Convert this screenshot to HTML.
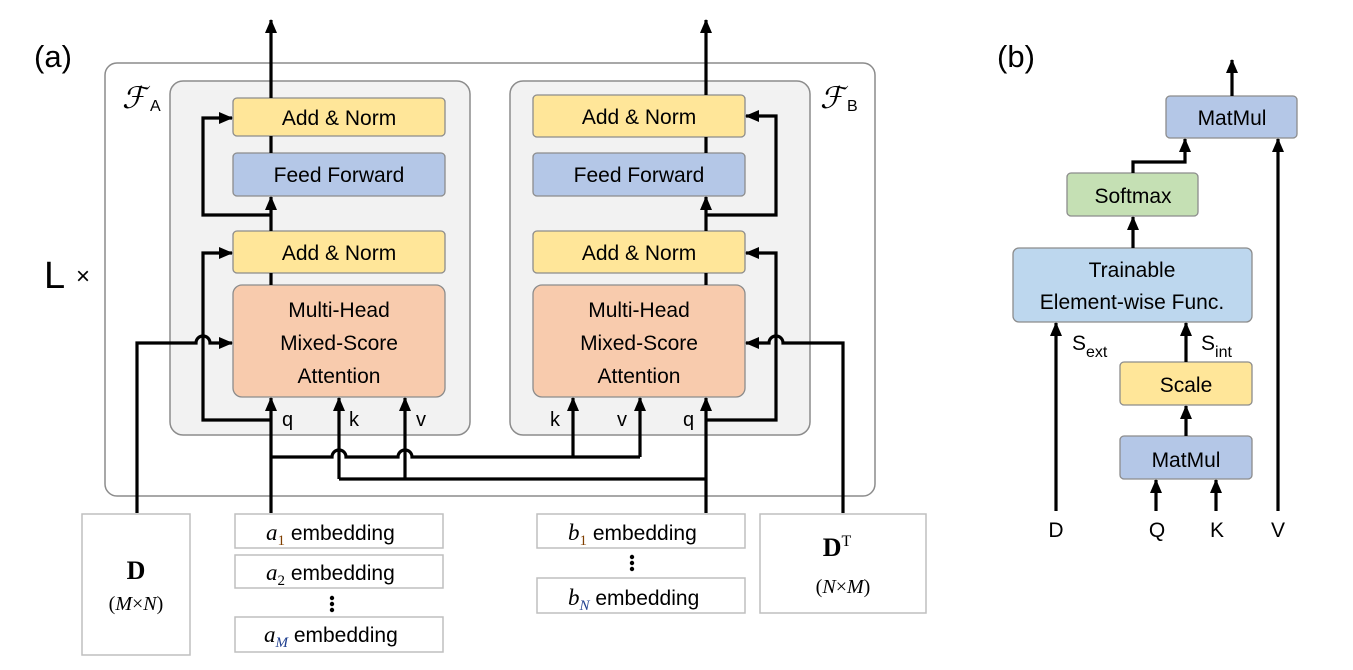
<!DOCTYPE html>
<html><head><meta charset="utf-8"><style>
html,body{margin:0;padding:0;background:#fff;}
svg{display:block;font-family:"Liberation Sans",sans-serif;}
</style></head><body>
<svg width="1353" height="670" viewBox="0 0 1353 670" xmlns="http://www.w3.org/2000/svg">
<defs>
<marker id="ar" markerUnits="userSpaceOnUse" markerWidth="14" markerHeight="14" viewBox="0 0 14 14" refX="13" refY="7" orient="auto">
<path d="M0,1 L14,7 L0,13 z" fill="#000"/>
</marker>
</defs>
<!-- titles -->
<text x="34" y="67" font-size="31">(a)</text>
<text x="44" y="288" font-size="38">L</text>
<text x="76" y="284" font-size="24">×</text>
<text x="997" y="67" font-size="31">(b)</text>

<!-- outer box -->
<rect x="105" y="63" width="770" height="433" rx="12" fill="#fff" stroke="#8c8c8c" stroke-width="1.5"/>
<rect x="170" y="81" width="300" height="354" rx="13" fill="#f2f2f2" stroke="#8c8c8c" stroke-width="1.5"/>
<rect x="510" y="81" width="300" height="354" rx="13" fill="#f2f2f2" stroke="#8c8c8c" stroke-width="1.5"/>
<text x="122" y="108" font-size="30" font-family="DejaVu Serif, serif" font-style="italic">ℱ</text>
<text x="150" y="111" font-size="16">A</text>
<text x="820" y="108" font-size="30" font-family="DejaVu Serif, serif" font-style="italic">ℱ</text>
<text x="847" y="111" font-size="16">B</text>

<g stroke="#8c8c8c" stroke-width="1.3">
<rect x="233" y="98" width="212" height="38" rx="4" fill="#ffe699"/>
<rect x="233" y="153" width="212" height="43" rx="4" fill="#b4c7e7"/>
<rect x="233" y="231" width="212" height="42" rx="4" fill="#ffe699"/>
<rect x="233" y="285" width="212" height="112" rx="9" fill="#f8cbad"/>
<rect x="533" y="95" width="212" height="42" rx="4" fill="#ffe699"/>
<rect x="533" y="153" width="212" height="43" rx="4" fill="#b4c7e7"/>
<rect x="533" y="231" width="212" height="42" rx="4" fill="#ffe699"/>
<rect x="533" y="285" width="212" height="112" rx="9" fill="#f8cbad"/>
</g>
<g font-size="21" text-anchor="middle">
<text x="339" y="125">Add &amp; Norm</text>
<text x="339" y="182">Feed Forward</text>
<text x="339" y="260">Add &amp; Norm</text>
<text x="339" y="317">Multi-Head</text>
<text x="339" y="350">Mixed-Score</text>
<text x="339" y="383">Attention</text>
<text x="639" y="124">Add &amp; Norm</text>
<text x="639" y="182">Feed Forward</text>
<text x="639" y="260">Add &amp; Norm</text>
<text x="639" y="317">Multi-Head</text>
<text x="639" y="350">Mixed-Score</text>
<text x="639" y="383">Attention</text>
</g>
<g font-size="20">
<text x="282" y="426">q</text><text x="349" y="426">k</text><text x="416" y="426">v</text>
<text x="550" y="426">k</text><text x="617" y="426">v</text><text x="683" y="426">q</text>
</g>

<g stroke="#000" stroke-width="3.2" fill="none">
<path d="M271,98 V20" marker-end="url(#ar)"/>
<path d="M271,136 V153"/>
<path d="M271,231 V197" marker-end="url(#ar)"/>
<path d="M271,215 H203 V118 H232" marker-end="url(#ar)"/>
<path d="M271,273 V285"/>
<path d="M271,513 V398" marker-end="url(#ar)"/>
<path d="M271,420 H203 V253 H232" marker-end="url(#ar)"/>
<path d="M137,513 V343 H196 A7,7 0 0 1 210,343 H232" marker-end="url(#ar)"/>
<path d="M339,479 V398" marker-end="url(#ar)"/>
<path d="M405,479 V398" marker-end="url(#ar)"/>
<path d="M271,457 H332 A7,7 0 0 1 346,457 H398 A7,7 0 0 1 412,457 H640"/>
<path d="M339,479 H706"/>
<path d="M573,457 V398" marker-end="url(#ar)"/>
<path d="M640,457 V398" marker-end="url(#ar)"/>
<path d="M706,95 V20" marker-end="url(#ar)"/>
<path d="M706,137 V153"/>
<path d="M706,231 V197" marker-end="url(#ar)"/>
<path d="M706,215 H776 V116 H746" marker-end="url(#ar)"/>
<path d="M706,273 V285"/>
<path d="M706,513 V398" marker-end="url(#ar)"/>
<path d="M706,420 H776 V253 H746" marker-end="url(#ar)"/>
<path d="M843,513 V343 H783 A7,7 0 0 0 769,343 H746" marker-end="url(#ar)"/>
</g>

<g fill="#fff" stroke="#bfbfbf" stroke-width="1.5">
<rect x="82" y="514" width="108" height="141"/>
<rect x="235" y="514" width="208" height="34"/>
<rect x="235" y="555" width="208" height="33"/>
<rect x="235" y="617" width="208" height="35"/>
<rect x="537" y="514" width="208" height="34"/>
<rect x="537" y="578" width="208" height="35"/>
<rect x="760" y="514" width="166" height="99"/>
</g>
<text x="136" y="579" font-size="26" font-weight="bold" font-family="Liberation Serif, serif" text-anchor="middle">D</text>
<text x="136" y="610" font-size="20" font-family="Liberation Serif, serif" text-anchor="middle">(<tspan font-style="italic">M</tspan>×<tspan font-style="italic">N</tspan>)</text>
<text x="837" y="556" font-size="26" font-weight="bold" font-family="Liberation Serif, serif" text-anchor="middle">D<tspan font-weight="normal" font-size="16" dy="-10">T</tspan></text>
<text x="843" y="593" font-size="20" font-family="Liberation Serif, serif" text-anchor="middle">(<tspan font-style="italic">N</tspan>×<tspan font-style="italic">M</tspan>)</text>
<g font-size="21">
<text x="266" y="540"><tspan font-family="Liberation Serif, serif" font-style="italic" font-size="23">a</tspan><tspan font-family="Liberation Serif, serif" font-size="15" dy="5" fill="#7f3f00">1</tspan><tspan dy="-5"> embedding</tspan></text>
<text x="266" y="580"><tspan font-family="Liberation Serif, serif" font-style="italic" font-size="23">a</tspan><tspan font-family="Liberation Serif, serif" font-size="15" dy="5">2</tspan><tspan dy="-5"> embedding</tspan></text>
<text x="264" y="642"><tspan font-family="Liberation Serif, serif" font-style="italic" font-size="23">a</tspan><tspan font-family="Liberation Serif, serif" font-style="italic" font-size="15" dy="5" fill="#1f3f8f">M</tspan><tspan dy="-5"> embedding</tspan></text>
<text x="568" y="540"><tspan font-family="Liberation Serif, serif" font-style="italic" font-size="23">b</tspan><tspan font-family="Liberation Serif, serif" font-size="15" dy="5" fill="#7f3f00">1</tspan><tspan dy="-5"> embedding</tspan></text>
<text x="568" y="605"><tspan font-family="Liberation Serif, serif" font-style="italic" font-size="23">b</tspan><tspan font-family="Liberation Serif, serif" font-style="italic" font-size="15" dy="5" fill="#1f3f8f">N</tspan><tspan dy="-5"> embedding</tspan></text>
</g>
<g fill="#000">
<circle cx="332" cy="598" r="2.2"/><circle cx="332" cy="604" r="2.2"/><circle cx="332" cy="610" r="2.2"/>
<circle cx="632" cy="557" r="2.2"/><circle cx="632" cy="563" r="2.2"/><circle cx="632" cy="569" r="2.2"/>
</g>

<g stroke="#8c8c8c" stroke-width="1.3">
<rect x="1166" y="96" width="131" height="42" rx="4" fill="#b4c7e7"/>
<rect x="1067" y="173" width="131" height="43" rx="4" fill="#c5e0b4"/>
<rect x="1013" y="248" width="239" height="74" rx="6" fill="#bdd7ee"/>
<rect x="1120" y="362" width="132" height="43" rx="4" fill="#ffe699"/>
<rect x="1120" y="436" width="132" height="43" rx="4" fill="#b4c7e7"/>
</g>
<g font-size="21" text-anchor="middle">
<text x="1232" y="125">MatMul</text>
<text x="1133" y="203">Softmax</text>
<text x="1132" y="277">Trainable</text>
<text x="1132" y="309">Element-wise Func.</text>
<text x="1186" y="392">Scale</text>
<text x="1186" y="467">MatMul</text>
</g>
<g stroke="#000" stroke-width="3.2" fill="none">
<path d="M1232,96 V60" marker-end="url(#ar)"/>
<path d="M1133,173 V162 H1185 V139" marker-end="url(#ar)"/>
<path d="M1133,248 V217" marker-end="url(#ar)"/>
<path d="M1186,362 V323" marker-end="url(#ar)"/>
<path d="M1186,436 V406" marker-end="url(#ar)"/>
<path d="M1056,511 V323" marker-end="url(#ar)"/>
<path d="M1156,511 V480" marker-end="url(#ar)"/>
<path d="M1216,511 V480" marker-end="url(#ar)"/>
<path d="M1278,511 V139" marker-end="url(#ar)"/>
</g>
<text x="1072" y="350" font-size="21">S<tspan font-size="16" dy="7">ext</tspan></text>
<text x="1201" y="350" font-size="21">S<tspan font-size="16" dy="7">int</tspan></text>
<g font-size="21" text-anchor="middle">
<text x="1056" y="537">D</text><text x="1157" y="537">Q</text><text x="1217" y="537">K</text><text x="1278" y="537">V</text>
</g>
</svg>
</body></html>
